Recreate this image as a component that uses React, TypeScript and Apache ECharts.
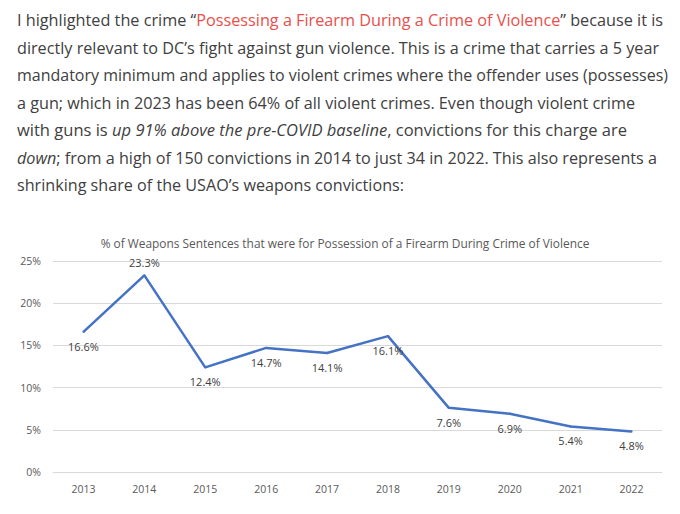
import React, { useEffect, useRef } from "react";
import * as echarts from "echarts";

const years = ["2013", "2014", "2015", "2016", "2017", "2018", "2019", "2020", "2021", "2022"];
const shares = [16.6, 23.3, 12.4, 14.7, 14.1, 16.1, 7.6, 6.9, 5.4, 4.8];
const labelAbove = [false, true, false, false, false, false, false, false, false, false];
const yTicks = [0, 5, 10, 15, 20, 25];
const chartTitle = "% of Weapons Sentences that were for Possession of a Firearm During Crime of Violence";

const textColor = "#404040";
const red = "#e8504c";
const textLeft = 17;
const lineEnds = [663, 659, 668, 635, 627, 657, 404];

export default function App() {
  const ref = useRef<HTMLDivElement>(null);
  const lineRefs = useRef<(HTMLDivElement | null)[]>([]);

  useEffect(() => {
    lineRefs.current.forEach((el, i) => {
      if (!el) return;
      el.style.transform = "none";
      const w = el.getBoundingClientRect().width;
      const target = lineEnds[i] - textLeft;
      if (w > 0) el.style.transform = `scaleX(${target / w})`;
    });
  }, []);

  useEffect(() => {
    if (!ref.current) return;
    const chart = echarts.init(ref.current, null, { renderer: "svg" });
    const font = "'Open Sans', 'Noto Sans', sans-serif";
    chart.setOption({
      animation: false,
      title: {
        text: chartTitle,
        left: 340,
        textAlign: "center",
        top: 232,
        textStyle: { fontFamily: font, fontSize: 11.9, fontWeight: "normal", color: "#595959" },
      },
      grid: { left: 53, right: 18, top: 261, bottom: 42 },
      xAxis: {
        type: "category",
        data: years,
        boundaryGap: true,
        axisLine: { show: true, lineStyle: { color: "#d9d9d9", width: 1 } },
        axisTick: { show: false },
        axisLabel: { color: "#595959", fontFamily: font, fontSize: 10.5, margin: 11 },
      },
      yAxis: {
        type: "value",
        min: yTicks[0],
        max: yTicks[yTicks.length - 1],
        interval: 5,
        axisLine: { show: false },
        axisTick: { show: false },
        axisLabel: { color: "#595959", fontFamily: font, fontSize: 10.5, margin: 12, formatter: "{value}%" },
        splitLine: { lineStyle: { color: "#d9d9d9", width: 1 } },
      },
      series: [
        {
          type: "line",
          data: shares.map((v, i) => ({
            value: v,
            label: { position: labelAbove[i] ? "top" : "bottom", distance: labelAbove[i] ? 6 : 8 },
          })),
          symbol: "circle",
          symbolSize: 2,
          showSymbol: true,
          itemStyle: { color: "#4472c4" },
          lineStyle: { color: "#4472c4", width: 2.5 },
          label: {
            show: true,
            color: "#404040",
            fontFamily: font,
            fontSize: 11,
            formatter: (p: any) => Number(p.value).toFixed(1) + "%",
          },
        },
      ],
    });
    return () => chart.dispose();
  }, []);

  const lines: React.ReactNode[] = [
    <>
      I highlighted the crime “<span style={{ color: red }}>Possessing a Firearm During a Crime of Violence</span>” because it is
    </>,
    <>directly relevant to DC’s fight against gun violence. This is a crime that carries a 5 year</>,
    <>mandatory minimum and applies to violent crimes where the offender uses (possesses)</>,
    <>a gun; which in 2023 has been 64% of all violent crimes. Even though violent crime</>,
    <>
      with guns is <i>up 91% above the pre-COVID baseline</i>, convictions for this charge are
    </>,
    <>
      <i>down</i>; from a high of 150 convictions in 2014 to just 34 in 2022. This also represents a
    </>,
    <>shrinking share of the USAO’s weapons convictions:</>,
  ];

  return (
    <div style={{ position: "fixed", left: 0, top: 0, width: 680, height: 514, background: "#fff", overflow: "hidden" }}>
      <div ref={ref} style={{ position: "absolute", left: 0, top: 0, width: 680, height: 514 }} />
      <div
        style={{
          position: "absolute",
          left: 0,
          top: 0,
          width: 680,
          fontFamily: "'Open Sans', 'Noto Sans', sans-serif",
          fontSize: 16.5,
          color: textColor,
        }}
      >
        {lines.map((l, i) => (
          <div
            key={i}
            ref={(el) => {
              lineRefs.current[i] = el;
            }}
            style={{
              position: "absolute",
              left: textLeft,
              top: 6 + i * 27.5,
              whiteSpace: "nowrap",
              height: 28,
              lineHeight: "28px",
              transformOrigin: "0 0",
            }}
          >
            {l}
          </div>
        ))}
      </div>
    </div>
  );
}
